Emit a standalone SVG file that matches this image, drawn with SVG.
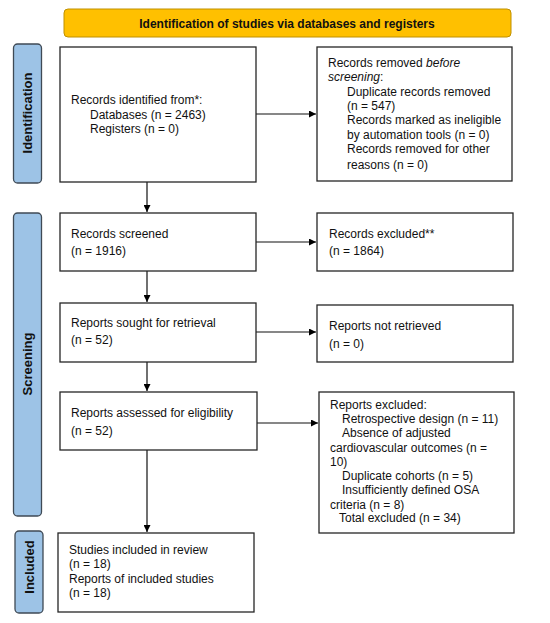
<svg xmlns="http://www.w3.org/2000/svg" width="550" height="623" viewBox="0 0 550 623">
<defs>
<marker id="ah" viewBox="0 0 10 10" refX="10" refY="5" markerWidth="7" markerHeight="7" markerUnits="userSpaceOnUse" orient="auto">
<path d="M0,0 L10,5 L0,10 z" fill="#000"/>
</marker>
<style>
.box{fill:#fff;stroke:#262626;stroke-width:1.3}
.side{fill:#9DC3E6;stroke:#3F4A55;stroke-width:1.3}
.t{font-family:"Liberation Sans",Arial,sans-serif;font-size:12px;fill:#111}
.sl{font-family:"Liberation Sans",Arial,sans-serif;font-size:13px;font-weight:bold;fill:#111}
.conn{stroke:#111;stroke-width:1.2;fill:none;marker-end:url(#ah)}
</style>
</defs>
<rect width="550" height="623" fill="#fff"/>
<g id="banner">
<rect x="64" y="9" width="447" height="28" rx="4" fill="#FFC000" stroke="#BF9000" stroke-width="1"/>
<text x="287" y="27.5" text-anchor="middle" font-family="Liberation Sans,Arial,sans-serif" font-size="12" font-weight="bold" fill="#111">Identification of studies via databases and registers</text>
</g>
<g id="side-identification">
<rect x="13.5" y="44" width="28" height="139" rx="4" class="side"/>
<text class="sl" transform="translate(32,113) rotate(-90)" text-anchor="middle">Identification</text>
</g>
<g id="side-screening">
<rect x="13.5" y="213" width="28" height="303" rx="4" class="side"/>
<text class="sl" transform="translate(32,364) rotate(-90)" text-anchor="middle">Screening</text>
</g>
<g id="side-included">
<rect x="15" y="531" width="28" height="82" rx="4" class="side"/>
<text class="sl" transform="translate(33.5,567) rotate(-90)" text-anchor="middle">Included</text>
</g>
<g id="connectors">
<line x1="256" y1="114" x2="316" y2="114" class="conn"/>
<line x1="147" y1="182" x2="147" y2="212" class="conn"/>
<line x1="256" y1="242" x2="316" y2="242" class="conn"/>
<line x1="147" y1="271" x2="147" y2="302" class="conn"/>
<line x1="256" y1="332" x2="316" y2="332" class="conn"/>
<line x1="147" y1="362" x2="147" y2="391" class="conn"/>
<line x1="257" y1="423" x2="318" y2="423" class="conn"/>
<line x1="147" y1="450" x2="147" y2="532" class="conn"/>
</g>
<g id="records-identified">
<rect x="60" y="47" width="196" height="135" class="box"/>
<text class="t" x="71" y="104">Records identified from*:</text>
<text class="t" x="90" y="118.5">Databases (n = 2463)</text>
<text class="t" x="90" y="133">Registers (n = 0)</text>
</g>
<g id="records-removed">
<rect x="317" y="47" width="195" height="134" class="box"/>
<text class="t" x="328" y="67">Records removed <tspan font-style="italic">before</tspan></text>
<text class="t" x="328" y="81"><tspan font-style="italic">screening</tspan>:</text>
<text class="t" x="347" y="96">Duplicate records removed</text>
<text class="t" x="347" y="110">(n = 547)</text>
<text class="t" x="347" y="124">Records marked as ineligible</text>
<text class="t" x="347" y="138.5">by automation tools (n = 0)</text>
<text class="t" x="347" y="152.5">Records removed for other</text>
<text class="t" x="347" y="169">reasons (n = 0)</text>
</g>
<g id="records-screened">
<rect x="60" y="213" width="196" height="58" class="box"/>
<text class="t" x="71" y="238">Records screened</text>
<text class="t" x="71" y="255">(n = 1916)</text>
</g>
<g id="records-excluded">
<rect x="317" y="213" width="196" height="58" class="box"/>
<text class="t" x="329" y="238">Records excluded**</text>
<text class="t" x="329" y="255">(n = 1864)</text>
</g>
<g id="reports-sought">
<rect x="60" y="303" width="196" height="59" class="box"/>
<text class="t" x="71" y="327">Reports sought for retrieval</text>
<text class="t" x="71" y="344">(n = 52)</text>
</g>
<g id="reports-not-retrieved">
<rect x="317" y="305" width="196" height="57" class="box"/>
<text class="t" x="329" y="330">Reports not retrieved</text>
<text class="t" x="329" y="348">(n = 0)</text>
</g>
<g id="reports-assessed">
<rect x="60" y="392" width="197" height="58" class="box"/>
<text class="t" x="71" y="417">Reports assessed for eligibility</text>
<text class="t" x="71" y="435">(n = 52)</text>
</g>
<g id="reports-excluded">
<rect x="319" y="392" width="195" height="141" class="box"/>
<text class="t" x="330" y="409">Reports excluded:</text>
<text class="t" x="342" y="423">Retrospective design (n = 11)</text>
<text class="t" x="342" y="437">Absence of adjusted</text>
<text class="t" x="330" y="452">cardiovascular outcomes (n =</text>
<text class="t" x="330" y="466">10)</text>
<text class="t" x="342" y="480">Duplicate cohorts (n = 5)</text>
<text class="t" x="342" y="494">Insufficiently defined OSA</text>
<text class="t" x="330" y="509">criteria (n = 8)</text>
<text class="t" x="339" y="522">Total excluded (n = 34)</text>
</g>
<g id="studies-included">
<rect x="58" y="533" width="196" height="79" class="box"/>
<text class="t" x="69" y="554">Studies included in review</text>
<text class="t" x="69" y="568">(n = 18)</text>
<text class="t" x="69" y="583">Reports of included studies</text>
<text class="t" x="69" y="597">(n = 18)</text>
</g>
</svg>
